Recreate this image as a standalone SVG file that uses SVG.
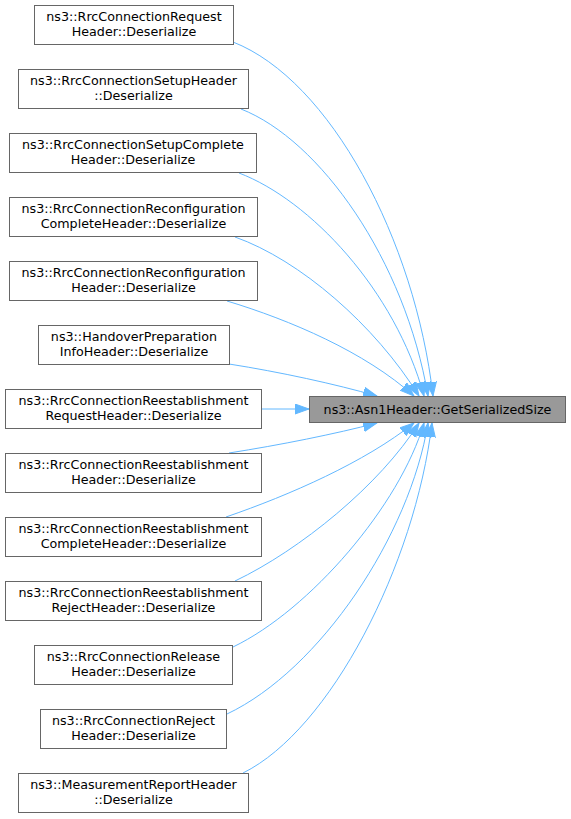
<svg xmlns="http://www.w3.org/2000/svg" width="571" height="819" viewBox="0 0 571 819">
<style>
.node rect{fill:#ffffff;stroke:#666666;stroke-width:1}
.node.target rect{fill:#999999;stroke:#666666}
text{font-family:"DejaVu Sans","Liberation Sans",sans-serif;font-size:12.7px;fill:#000000;text-anchor:middle}
.edges path{fill:none;stroke:#63b8ff;stroke-width:1;marker-end:url(#arr)}
</style>
<defs>
<marker id="arr" markerUnits="userSpaceOnUse" markerWidth="16" markerHeight="12" refX="14" refY="5.5" orient="auto">
<polygon points="0,0.5 14,5.5 0,10.5" fill="#63b8ff" stroke="#63b8ff" stroke-width="1"/>
</marker>
</defs>
<rect x="0" y="0" width="571" height="819" fill="#ffffff"/>
<g class="edges" id="edges">
<path d="M233,42 C330,80 415,240 433,396"/>
<path d="M241,109 C320,140 405,260 428,396"/>
<path d="M239,173 C310,200 395,290 424,396"/>
<path d="M235,237 C300,260 375,325 419,396"/>
<path d="M227,301 C290,320 365,352 414,396"/>
<path d="M229,364 C280,372 335,384 377,396"/>
<path d="M262,409 L309,409"/>
<path d="M229,453 C280,445 335,434 377,423"/>
<path d="M226,517 C290,495 365,462 414,423"/>
<path d="M235,581 C300,550 380,485 419,423"/>
<path d="M233,647 C310,610 400,505 424,423"/>
<path d="M227,714 C320,670 410,535 428,423"/>
<path d="M243,773 C330,730 415,565 432,423"/>
</g>
<g class="node target" id="n0"><rect x="309.5" y="396.5" width="256" height="26"/><text x="437.5" y="413.5">ns3::Asn1Header::GetSerializedSize</text></g>
<g class="node" id="n1"><rect x="34.5" y="5.5" width="199" height="39"/><text x="134" y="20.5">ns3::RrcConnectionRequest</text><text x="134" y="35.5">Header::Deserialize</text></g>
<g class="node" id="n2"><rect x="18.5" y="69.5" width="230" height="39"/><text x="133.5" y="84.5">ns3::RrcConnectionSetupHeader</text><text x="133.5" y="99.5">::Deserialize</text></g>
<g class="node" id="n3"><rect x="9.5" y="133.5" width="247" height="39"/><text x="133" y="148.5">ns3::RrcConnectionSetupComplete</text><text x="133" y="163.5">Header::Deserialize</text></g>
<g class="node" id="n4"><rect x="9.5" y="197.5" width="248" height="39"/><text x="133.5" y="212.5">ns3::RrcConnectionReconfiguration</text><text x="133.5" y="227.5">CompleteHeader::Deserialize</text></g>
<g class="node" id="n5"><rect x="9.5" y="261.5" width="248" height="39"/><text x="133.5" y="276.5">ns3::RrcConnectionReconfiguration</text><text x="133.5" y="291.5">Header::Deserialize</text></g>
<g class="node" id="n6"><rect x="38.5" y="325.5" width="191" height="39"/><text x="134" y="340.5">ns3::HandoverPreparation</text><text x="134" y="355.5">InfoHeader::Deserialize</text></g>
<g class="node" id="n7"><rect x="5.5" y="389.5" width="256" height="39"/><text x="133.5" y="404.5">ns3::RrcConnectionReestablishment</text><text x="133.5" y="419.5">RequestHeader::Deserialize</text></g>
<g class="node" id="n8"><rect x="5.5" y="453.5" width="256" height="39"/><text x="133.5" y="468.5">ns3::RrcConnectionReestablishment</text><text x="133.5" y="483.5">Header::Deserialize</text></g>
<g class="node" id="n9"><rect x="5.5" y="517.5" width="256" height="39"/><text x="133.5" y="532.5">ns3::RrcConnectionReestablishment</text><text x="133.5" y="547.5">CompleteHeader::Deserialize</text></g>
<g class="node" id="n10"><rect x="5.5" y="581.5" width="256" height="39"/><text x="133.5" y="596.5">ns3::RrcConnectionReestablishment</text><text x="133.5" y="611.5">RejectHeader::Deserialize</text></g>
<g class="node" id="n11"><rect x="34.5" y="645.5" width="198" height="39"/><text x="133.5" y="660.5">ns3::RrcConnectionRelease</text><text x="133.5" y="675.5">Header::Deserialize</text></g>
<g class="node" id="n12"><rect x="40.5" y="709.5" width="186" height="39"/><text x="133.5" y="724.5">ns3::RrcConnectionReject</text><text x="133.5" y="739.5">Header::Deserialize</text></g>
<g class="node" id="n13"><rect x="18.5" y="773.5" width="230" height="39"/><text x="133.5" y="788.5">ns3::MeasurementReportHeader</text><text x="133.5" y="803.5">::Deserialize</text></g>
</svg>
